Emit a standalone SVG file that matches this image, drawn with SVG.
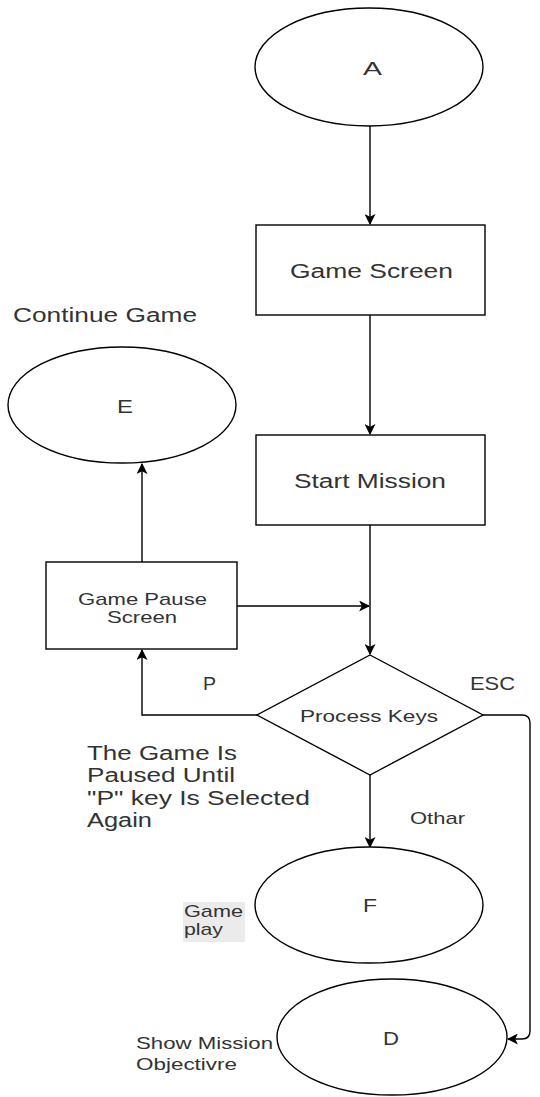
<svg xmlns="http://www.w3.org/2000/svg" width="540" height="1097" viewBox="0 0 540 1097">
<style>
.s{fill:#fff;stroke:#000;stroke-width:1.4}
.t{font-family:"Liberation Sans",Arial,sans-serif;fill:#333}
.c{fill:none;stroke:#000;stroke-width:1.4}
</style>
<defs>
<marker id="ah" viewBox="0 0 10 10" refX="9" refY="5" markerWidth="11" markerHeight="11" markerUnits="userSpaceOnUse" orient="auto">
<path d="M0,0 L10,5 L0,10 L2.5,5 Z" fill="#000"/>
</marker>
</defs>
<rect width="540" height="1097" fill="#fff"/>
<g id="connectors">
<path class="c" d="M370,126 V224" marker-end="url(#ah)"/>
<path class="c" d="M370,315 V434" marker-end="url(#ah)"/>
<path class="c" d="M370,525 V654" marker-end="url(#ah)"/>
<path class="c" d="M237,606 H369" marker-end="url(#ah)"/>
<path class="c" d="M142,562 V464" marker-end="url(#ah)"/>
<path class="c" d="M257,715 H142 V650" marker-end="url(#ah)"/>
<path class="c" d="M483,715 H522 Q530,715 530,723 V1031 Q530,1039 522,1039 H508" marker-end="url(#ah)"/>
<path class="c" d="M370,775 V847" marker-end="url(#ah)"/>
</g>
<g id="A"><ellipse class="s" cx="369" cy="67" rx="114" ry="59"/><text class="t" x="363" y="75" font-size="19" textLength="19" lengthAdjust="spacingAndGlyphs">A</text></g>
<g id="gameScreen"><rect class="s" x="256" y="225" width="229" height="90"/><text class="t" x="290" y="278" font-size="20" textLength="163" lengthAdjust="spacingAndGlyphs">Game Screen</text></g>
<g id="startMission"><rect class="s" x="256" y="435" width="229" height="90"/><text class="t" x="294" y="488" font-size="20" textLength="152" lengthAdjust="spacingAndGlyphs">Start Mission</text></g>
<g id="E"><ellipse class="s" cx="122" cy="405" rx="114" ry="58"/><text class="t" x="117" y="413" font-size="19" textLength="16" lengthAdjust="spacingAndGlyphs">E</text></g>
<g id="continueLabel"><text class="t" x="13" y="322" font-size="20" textLength="184" lengthAdjust="spacingAndGlyphs">Continue Game</text></g>
<g id="pause"><rect class="s" x="46" y="562" width="191" height="87"/><text class="t" x="78" y="605" font-size="17" textLength="129" lengthAdjust="spacingAndGlyphs">Game Pause</text><text class="t" x="107" y="623" font-size="17" textLength="70" lengthAdjust="spacingAndGlyphs">Screen</text></g>
<g id="process"><polygon class="s" points="370,655 483,715 370,775 257,715"/><text class="t" x="300" y="722" font-size="17" textLength="138" lengthAdjust="spacingAndGlyphs">Process Keys</text></g>
<g id="labels">
<text class="t" x="203" y="690" font-size="18" textLength="13" lengthAdjust="spacingAndGlyphs">P</text>
<text class="t" x="470" y="690" font-size="18" textLength="45" lengthAdjust="spacingAndGlyphs">ESC</text>
<text class="t" x="410" y="824" font-size="17" textLength="55" lengthAdjust="spacingAndGlyphs">Othar</text>
<text class="t" x="87" y="760" font-size="20" textLength="150" lengthAdjust="spacingAndGlyphs">The Game Is</text>
<text class="t" x="87" y="782" font-size="20" textLength="148" lengthAdjust="spacingAndGlyphs">Paused Until</text>
<text class="t" x="87" y="805" font-size="20" textLength="223" lengthAdjust="spacingAndGlyphs">"P" key Is Selected</text>
<text class="t" x="87" y="827" font-size="20" textLength="65" lengthAdjust="spacingAndGlyphs">Again</text>
</g>
<g id="F"><ellipse class="s" cx="369" cy="905" rx="114" ry="58"/><text class="t" x="363" y="912" font-size="19" textLength="14" lengthAdjust="spacingAndGlyphs">F</text></g>
<g id="gameplayLabel"><rect x="183" y="902" width="62" height="40" fill="#ebebeb"/><text class="t" x="184" y="917" font-size="17" textLength="59" lengthAdjust="spacingAndGlyphs">Game</text><text class="t" x="184" y="935" font-size="17" textLength="39" lengthAdjust="spacingAndGlyphs">play</text></g>
<g id="D"><ellipse class="s" cx="392" cy="1037" rx="115" ry="58"/><text class="t" x="383" y="1045" font-size="19" textLength="16" lengthAdjust="spacingAndGlyphs">D</text></g>
<g id="showLabel"><text class="t" x="136" y="1049" font-size="17" textLength="137" lengthAdjust="spacingAndGlyphs">Show Mission</text><text class="t" x="136" y="1070" font-size="17" textLength="101" lengthAdjust="spacingAndGlyphs">Objectivre</text></g>
</svg>
